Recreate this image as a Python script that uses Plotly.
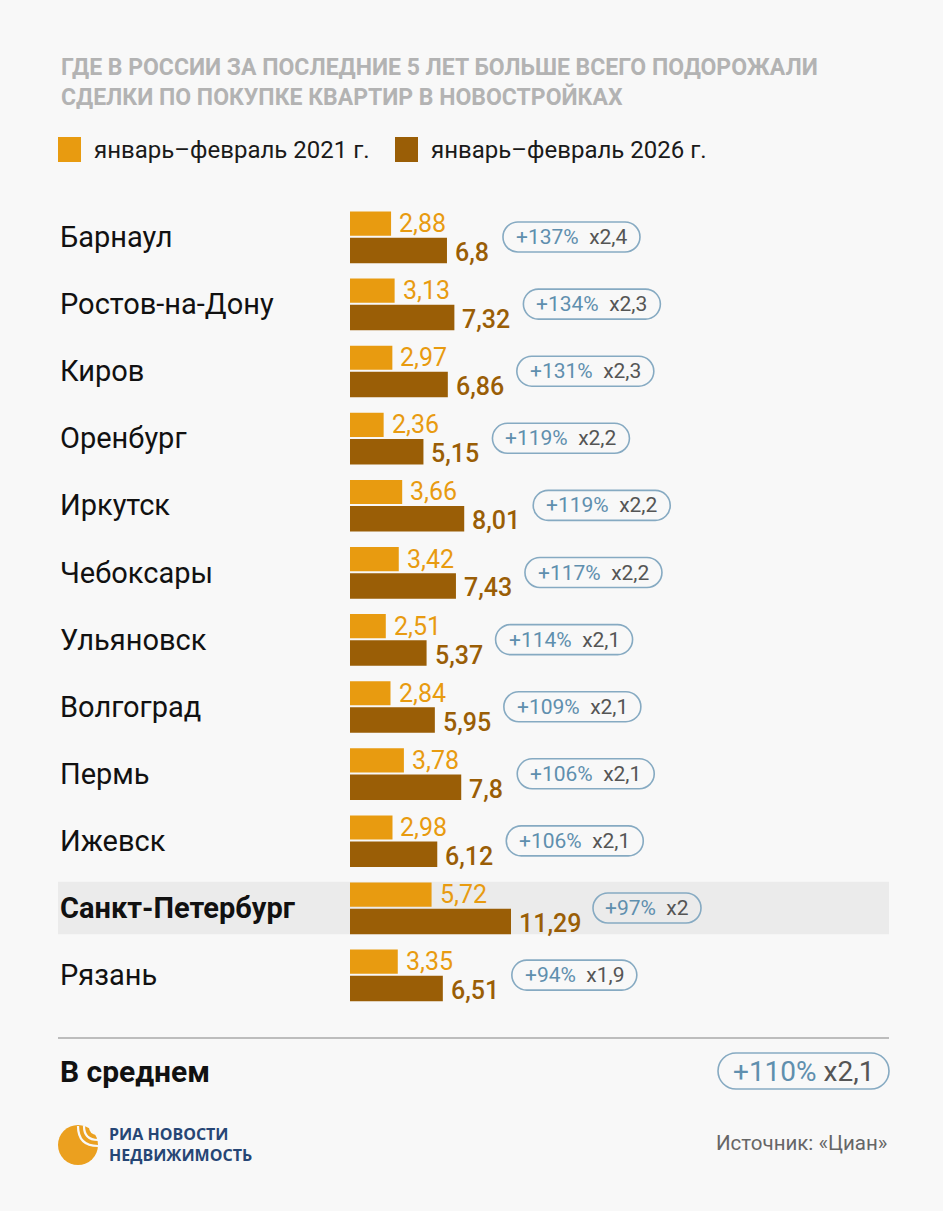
import plotly.graph_objects as go

# данные
cities = ["Барнаул", "Ростов-на-Дону", "Киров", "Оренбург", "Иркутск", "Чебоксары",
          "Ульяновск", "Волгоград", "Пермь", "Ижевск", "Санкт-Петербург", "Рязань"]
price_2021 = [2.88, 3.13, 2.97, 2.36, 3.66, 3.42, 2.51, 2.84, 3.78, 2.98, 5.72, 3.35]
price_2026 = [6.8, 7.32, 6.86, 5.15, 8.01, 7.43, 5.37, 5.95, 7.8, 6.12, 11.29, 6.51]
growth_pct = [137, 134, 131, 119, 119, 117, 114, 109, 106, 106, 97, 94]
growth_mult = [2.4, 2.3, 2.3, 2.2, 2.2, 2.2, 2.1, 2.1, 2.1, 2.1, 2, 1.9]
highlight = "Санкт-Петербург"
avg_pct = 110
avg_mult = 2.1

W, H = 943, 1211
C21 = "#e89b10"
C26 = "#9a5e06"
BLUE = "#5f8fae"
PILL = "#86aac2"
GRAY = "#555555"
FONT = "Roboto"


def px(x):
    return x / W


def py(y):
    return 1 - y / H


def num(v):
    return f"{v:g}".replace(".", ",")


# примерная ширина текста в пилюле (px)
CHAR_W = {"+": 12, "%": 17, "x": 11, ",": 5, " ": 6}


def pill_width(s):
    return sum(CHAR_W.get(c, 12) for c in s) + 26


def pill_path(x0, w, h):
    r = h / 2
    k = 0.5523 * r
    x1 = x0 + w
    return (f"M {x0 + r},{-r} L {x1 - r},{-r} "
            f"C {x1 - r + k},{-r} {x1},{-k} {x1},0 "
            f"C {x1},{k} {x1 - r + k},{r} {x1 - r},{r} "
            f"L {x0 + r},{r} "
            f"C {x0 + r - k},{r} {x0},{k} {x0},0 "
            f"C {x0},{-k} {x0 + r - k},{-r} {x0 + r},{-r} Z")


rows = list(range(len(cities)))
pitch = 67.1
row0 = 237

fig = go.Figure()
fig.add_trace(go.Bar(y=[i - 0.2 for i in rows], x=price_2021, orientation="h",
                     width=0.36, marker=dict(color=C21, line=dict(width=0)),
                     hoverinfo="skip"))
fig.add_trace(go.Bar(y=[i + 0.2 for i in rows], x=price_2026, orientation="h",
                     width=0.38, marker=dict(color=C26, line=dict(width=0)),
                     hoverinfo="skip"))

ann = []
shapes = []

# заголовок
ann.append(dict(x=px(59), y=py(52), xref="paper", yref="paper", xanchor="left",
                yanchor="top", align="left", showarrow=False,
                text="<b>ГДЕ В РОССИИ ЗА ПОСЛЕДНИЕ 5 ЛЕТ БОЛЬШЕ ВСЕГО ПОДОРОЖАЛИ<br>"
                     "СДЕЛКИ ПО ПОКУПКЕ КВАРТИР В НОВОСТРОЙКАХ</b>",
                font=dict(family=FONT, size=23, color="#b3b3b3")))

# легенда
for x0, col, label in [(58, C21, "январь–февраль 2021 г."), (395, C26, "январь–февраль 2026 г.")]:
    shapes.append(dict(type="rect", xref="paper", yref="paper", x0=px(x0), x1=px(x0 + 23),
                       y0=py(162), y1=py(137), fillcolor=col, line=dict(width=0)))
    ann.append(dict(x=px(x0 + 34), y=py(150), xref="paper", yref="paper", xanchor="left",
                    yanchor="middle", showarrow=False, text=label,
                    font=dict(family=FONT, size=24, color="#1a1a1a")))

for i, city in enumerate(cities):
    bold = city == highlight
    if bold:
        shapes.append(dict(type="rect", xref="paper", yref="y", x0=px(58), x1=px(889),
                           y0=i - 0.39, y1=i + 0.39, fillcolor="#ebebeb",
                           line=dict(width=0), layer="below"))
    ann.append(dict(x=px(58), y=i, xref="paper", yref="y", xanchor="left",
                    yanchor="middle", showarrow=False,
                    text=f"<b>{city}</b>" if bold else city,
                    font=dict(family=FONT, size=29, color="#111111")))
    ann.append(dict(x=price_2021[i], y=i - 0.2, xref="x", yref="y", xanchor="left",
                    yanchor="middle", xshift=6, showarrow=False, text=num(price_2021[i]),
                    font=dict(family=FONT, size=25, color=C21)))
    ann.append(dict(x=price_2026[i], y=i + 0.2, xref="x", yref="y", xanchor="left",
                    yanchor="middle", xshift=6, yshift=-2, showarrow=False,
                    text=num(price_2026[i]),
                    font=dict(family=FONT, size=25, color=C26, weight=500)))
    label26 = num(price_2026[i])
    off = 30 + 13 * sum(c.isdigit() for c in label26)
    pct = f"+{growth_pct[i]}%"
    mult = f"x{num(growth_mult[i])}"
    w = pill_width(pct + " " + mult)
    shapes.append(dict(type="path", xref="x", yref="y", xsizemode="pixel",
                       ysizemode="pixel", xanchor=price_2026[i], yanchor=i,
                       path=pill_path(off, w, 30),
                       line=dict(color=PILL, width=1.6), fillcolor="rgba(0,0,0,0)"))
    ann.append(dict(x=price_2026[i], y=i, xref="x", yref="y", xanchor="center",
                    yanchor="middle", xshift=off + w / 2, showarrow=False,
                    text=f"<span style='color:{BLUE}'>{pct}</span>&nbsp;&nbsp;"
                         f"<span style='color:{GRAY}'>{mult}</span>",
                    font=dict(family=FONT, size=21)))

# разделитель и среднее
shapes.append(dict(type="line", xref="paper", yref="paper", x0=px(58), x1=px(889),
                   y0=py(1038), y1=py(1038), line=dict(color="#aaaaaa", width=1.5)))
ann.append(dict(x=px(58), y=py(1071), xref="paper", yref="paper", xanchor="left",
                yanchor="middle", showarrow=False, text="<b>В среднем</b>",
                font=dict(family=FONT, size=30, color="#111111")))
avg_w = 171
shapes.append(dict(type="path", xref="paper", yref="paper", xsizemode="pixel",
                   ysizemode="pixel", xanchor=px(889), yanchor=py(1071),
                   path=pill_path(-avg_w, avg_w, 36),
                   line=dict(color=PILL, width=1.6), fillcolor="rgba(0,0,0,0)"))
ann.append(dict(x=px(889 - avg_w / 2), y=py(1071), xref="paper", yref="paper",
                xanchor="center", yanchor="middle", showarrow=False,
                text=f"<span style='color:{BLUE}'>+{avg_pct}%</span>&nbsp;"
                     f"<span style='color:{GRAY}'>x{num(avg_mult)}</span>",
                font=dict(family=FONT, size=28)))

# логотип
shapes.append(dict(type="circle", xref="paper", yref="paper", x0=px(58), x1=px(98),
                   y0=py(1165), y1=py(1125), fillcolor="#eba01f", line=dict(width=0)))
for r in [10, 16, 22]:
    cx, cy = 100, 1124
    shapes.append(dict(type="path", xref="paper", yref="paper",
                       path=f"M {px(cx - r)},{py(cy + 2)} Q {px(cx - r)},{py(cy + r)} {px(cx - 2)},{py(cy + r)}",
                       line=dict(color="#f8f8f8", width=2.2)))
for yy, line in [(1134, "РИА НОВОСТИ"), (1155, "НЕДВИЖИМОСТЬ")]:
    ann.append(dict(x=px(107), y=py(yy), xref="paper", yref="paper", xanchor="left",
                    yanchor="middle", showarrow=False, text=f"<b>{line}</b>",
                    font=dict(family="Open Sans", size=16, color="#264675")))
ann.append(dict(x=px(889), y=py(1143), xref="paper", yref="paper", xanchor="right",
                yanchor="middle", showarrow=False, text="Источник: «Циан»",
                font=dict(family=FONT, size=20.5, color="#666666")))

fig.update_layout(
    width=W, height=H,
    margin=dict(l=0, r=0, t=0, b=0),
    paper_bgcolor="#f8f8f8", plot_bgcolor="rgba(0,0,0,0)",
    barmode="overlay", showlegend=False,
    xaxis=dict(domain=[px(350), px(889)], range=[0, 539 / 14.26], visible=False,
               fixedrange=True),
    yaxis=dict(domain=[py(1010), py(200)],
               range=[(1010 - row0) / pitch, (200 - row0) / pitch], visible=False,
               fixedrange=True),
    annotations=ann, shapes=shapes,
)

fig.write_html("out.html", config={"displayModeBar": False},
               post_script="document.body.style.margin='0';")
